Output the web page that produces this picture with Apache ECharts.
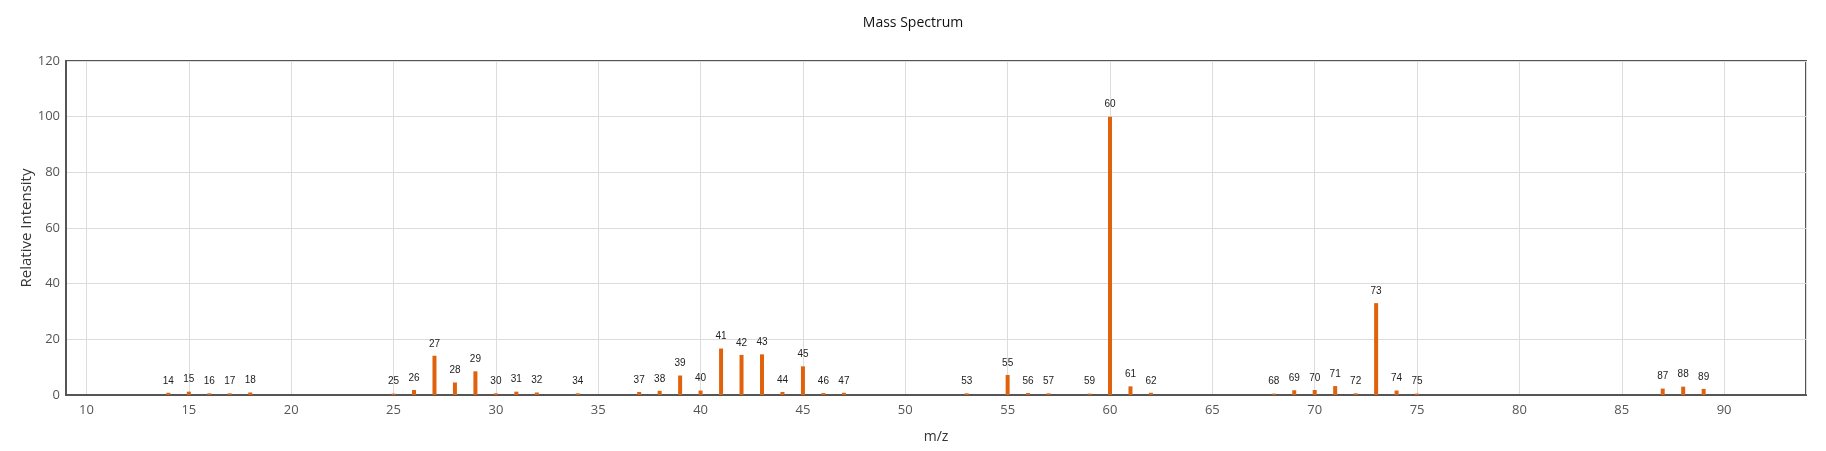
<!DOCTYPE html>
<html>
<head>
<meta charset="utf-8">
<script src="https://cdn.jsdelivr.net/npm/echarts@6/dist/echarts.min.js"></script>
<style>
  html, body { margin: 0; padding: 0; background: #fff; }
  #main { width: 1826px; height: 451px; }
</style>
</head>
<body>
<div id="main"></div>
<script>
// m/z values and relative intensities
var mzValues = [14, 15, 16, 17, 18, 25, 26, 27, 28, 29, 30, 31, 32, 34,
  37, 38, 39, 40, 41, 42, 43, 44, 45, 46, 47, 53, 55, 56, 57, 59, 60, 61, 62,
  68, 69, 70, 71, 72, 73, 74, 75, 87, 88, 89];
var intensities = [0.8, 1.2, 0.6, 0.6, 0.9, 0.5, 1.8, 14.1, 4.5, 8.5, 0.6, 1.2, 0.9, 0.6,
  1.1, 1.5, 7.0, 1.6, 16.7, 14.4, 14.6, 1.1, 10.3, 0.7, 0.8, 0.6, 7.2, 0.7, 0.6, 0.5, 100, 3.1, 0.8,
  0.5, 1.7, 1.8, 3.2, 0.6, 33, 1.6, 0.5, 2.3, 3.0, 2.2];

var chartTitle = 'Mass Spectrum';
var xName = 'm/z';
var yName = 'Relative Intensity';

var myChart = echarts.init(document.getElementById('main'));

var peaks = [];
for (var i = 0; i < mzValues.length; i++) {
  peaks.push([mzValues[i], intensities[i]]);
}

var axisFont = '"Open Sans", "Noto Sans", sans-serif';

var option = {
  backgroundColor: '#fff',
  animation: false,
  title: {
    text: chartTitle,
    left: 'center',
    top: 11,
    textStyle: { fontSize: 14, fontWeight: 'normal', color: '#111', fontFamily: axisFont }
  },
  grid: {
    left: 66, right: 20, top: 61, bottom: 56,
    show: true,
    borderColor: '#555',
    borderWidth: 2
  },
  xAxis: {
    type: 'value',
    min: 9,
    max: 94,
    minInterval: 5,
    maxInterval: 5,
    name: xName,
    nameLocation: 'middle',
    nameGap: 35,
    nameMoveOverlap: false,
    nameTextStyle: { fontSize: 14, color: '#333', fontFamily: axisFont },
    axisLine: { lineStyle: { color: '#555', width: 2 } },
    axisTick: { show: false },
    axisLabel: {
      showMinLabel: false,
      showMaxLabel: false,
      margin: 9,
      fontSize: 13,
      color: '#555',
      fontFamily: axisFont
    },
    splitLine: { show: true, lineStyle: { color: '#dcdcdc', width: 1 } }
  },
  yAxis: {
    type: 'value',
    min: 0,
    max: 120,
    interval: 20,
    name: yName,
    nameLocation: 'middle',
    nameGap: 32,
    nameMoveOverlap: false,
    nameTextStyle: { fontSize: 15, color: '#333', fontFamily: axisFont },
    axisLine: { show: true, lineStyle: { color: '#555', width: 2 } },
    axisTick: { show: false },
    axisLabel: { margin: 6, fontSize: 13, color: '#555', fontFamily: axisFont },
    splitLine: { show: true, lineStyle: { color: '#dcdcdc', width: 1 } }
  },
  series: [{
    type: 'bar',
    data: peaks,
    barWidth: 4,
    itemStyle: { color: '#e0620d' },
    label: {
      show: true,
      position: 'top',
      distance: 7,
      fontSize: 10,
      color: '#222',
      fontFamily: 'Liberation Sans, Arial, sans-serif',
      formatter: function (p) { return p.value[0]; }
    }
  }]
};

myChart.setOption(option);
</script>
</body>
</html>
